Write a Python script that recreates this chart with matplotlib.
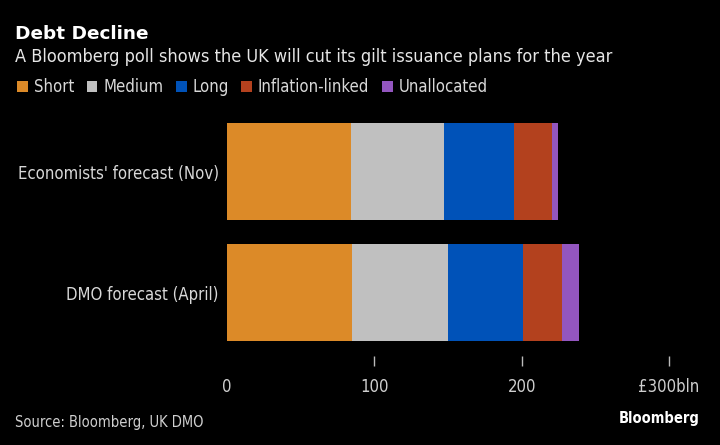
import matplotlib
matplotlib.use("Agg")
import matplotlib.pyplot as plt
from matplotlib.patches import Patch

plt.rcParams["font.family"] = ["DejaVu Sans"]
plt.rcParams["font.stretch"] = "condensed"

categories = ["Economists' forecast (Nov)", "DMO forecast (April)"]
series = ["Short", "Medium", "Long", "Inflation-linked", "Unallocated"]
short = [84.0, 84.7]
medium = [63.0, 65.1]
long_ = [47.6, 51.1]
inflation = [26.0, 26.3]
unallocated = [4.0, 11.7]
colors = ["#DC8A28", "#C0C0C0", "#0052B8", "#B3411E", "#9356BF"]
tick_vals = [0, 100, 200, 300]
tick_labels = ["0", "100", "200", "£300bln"]

W, H = 720, 445
fig = plt.figure(figsize=(7.2, 4.45), dpi=100, facecolor="black")
ax = fig.add_axes([227 / W, 1 - 356 / H, (669 - 227) / W, (356 - 115) / H])
ax.set_facecolor("black")

values = [short, medium, long_, inflation, unallocated]
y = list(range(len(categories)))
left = [0.0] * len(categories)
for vals, col in zip(values, colors):
    ax.barh(y, vals, left=left, height=0.8, color=col, linewidth=0)
    left = [l + v for l, v in zip(left, vals)]

ax.set_xlim(0, 300)
ax.set_ylim(1.524, -0.468)
ax.set_yticks(y)
ax.set_yticklabels(categories, fontsize=12, color="#d8d8d8")
ax.tick_params(axis="y", length=0, pad=6)
ax.set_xticks(tick_vals)
ax.set_xticklabels(tick_labels, fontsize=12, color="#cfcfcf")
ax.tick_params(axis="x", length=7, width=1, color="#bbbbbb", pad=9)
ax.xaxis.get_major_ticks()[0].tick1line.set_visible(False)
for s in ax.spines.values():
    s.set_visible(False)

fig.text(15 / W, 1 - 34 / H, "Debt Decline", fontsize=13.3, fontweight="bold",
         color="white", va="center", fontstretch="normal")
fig.text(15 / W, 1 - 57 / H,
         "A Bloomberg poll shows the UK will cut its gilt issuance plans for the year",
         fontsize=13, color="#e6e6e6", va="center")

handles = [Patch(facecolor=c, edgecolor="none") for c in colors]
leg = fig.legend(handles, series, loc="center left", bbox_to_anchor=(2 / W, 1 - 87 / H),
                 ncol=5, frameon=False, fontsize=12, handlelength=0.65, handleheight=0.65,
                 handletextpad=0.35, columnspacing=0.75, labelcolor="#d8d8d8")

fig.text(15 / W, 1 - 422 / H, "Source: Bloomberg, UK DMO", fontsize=10.5,
         color="#cfcfcf", va="center")
fig.text(700 / W, 1 - 419 / H, "Bloomberg", fontsize=10.5, fontweight="bold",
         color="white", va="center", ha="right")

fig.savefig("out.png", dpi=100, facecolor="black")
